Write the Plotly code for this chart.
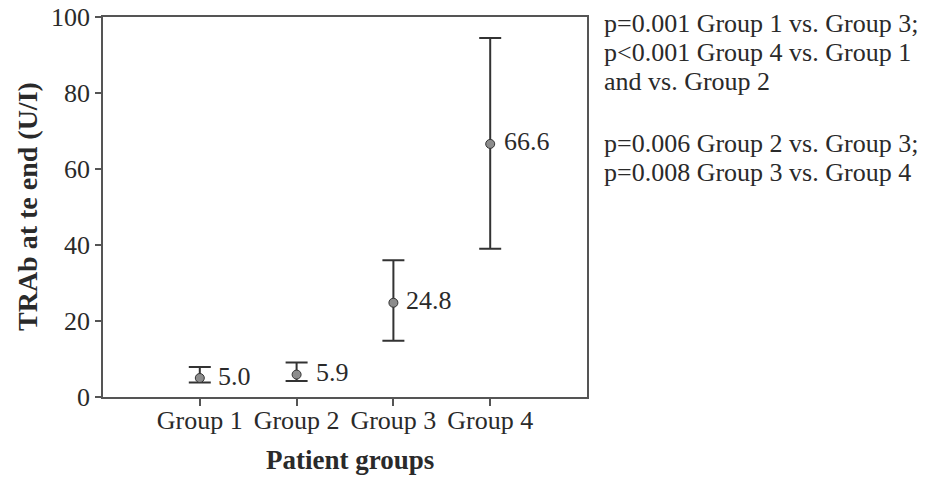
import plotly.graph_objects as go

groups = ["Group 1", "Group 2", "Group 3", "Group 4"]
group_pos = [1, 2, 3, 4]
means = [5.0, 5.9, 24.8, 66.6]
upper = [7.9, 9.1, 36.0, 94.5]
lower = [3.8, 4.2, 14.8, 39.0]
labels = ["5.0", "5.9", "24.8", "66.6"]

note_lines = [
    "p=0.001 Group 1 vs. Group 3;",
    "p<0.001 Group 4 vs. Group 1",
    "and vs. Group 2",
    "",
    "p=0.006 Group 2 vs. Group 3;",
    "p=0.008 Group 3 vs. Group 4",
]

# style: horizontal pixel shift of each value label from its point
label_shift = [16, 17, 11, 12]

FONT = "Liberation Serif"
TXT = "#2a2a2a"
LINE = "#555555"

err_plus = [u - m for u, m in zip(upper, means)]
err_minus = [m - l for m, l in zip(means, lower)]

fig = go.Figure()
fig.add_trace(go.Scatter(
    x=group_pos, y=means, mode="markers",
    marker=dict(size=9, color="#8c8c8c", line=dict(color="#333333", width=1)),
    error_y=dict(type="data", symmetric=False, array=err_plus, arrayminus=err_minus,
                 color="#333333", thickness=2, width=11),
    cliponaxis=False, showlegend=False, hoverinfo="skip",
))

anns = []
for xp, yv, t, sh in zip(group_pos, means, labels, label_shift):
    anns.append(dict(
        x=xp, y=yv, xref="x", yref="y", text=t, showarrow=False,
        xanchor="left", yanchor="middle", xshift=sh, yshift=2,
        font=dict(family=FONT, size=26, color=TXT),
    ))

# right-side notes, one annotation per line
line_step = 29
first_mid = 24
for i, t in enumerate(note_lines):
    if not t:
        continue
    py = first_mid + i * line_step + (3 if i >= 4 else 0)
    anns.append(dict(
        x=1.031, xref="paper", y=(397 - py) / 380, yref="paper",
        xanchor="left", yanchor="middle", showarrow=False,
        text=t, font=dict(family=FONT, size=26, color=TXT),
    ))

# axis titles
anns.append(dict(
    x=0.51, xref="paper", y=-0.166, yref="paper", xanchor="center", yanchor="middle",
    showarrow=False, text="<b>Patient groups</b>", font=dict(family=FONT, size=27, color=TXT),
))
anns.append(dict(
    x=-0.157, xref="paper", y=0.5, yref="paper", xanchor="center", yanchor="middle",
    textangle=-90, showarrow=False, text="<b>TRAb at te end (U/I)</b>",
    font=dict(family=FONT, size=28, color=TXT),
))

fig.update_layout(
    width=937, height=477,
    margin=dict(l=103, r=350, t=17, b=80),
    paper_bgcolor="white", plot_bgcolor="white",
    font=dict(family=FONT, size=26, color=TXT),
    annotations=anns,
    xaxis=dict(
        range=[0, 5], tickmode="array", tickvals=group_pos, ticktext=groups,
        automargin=False,
        showgrid=False, zeroline=False, showline=True, linecolor=LINE, linewidth=1.5,
        mirror=True, ticks="outside", ticklen=7, tickcolor=LINE, tickwidth=1.5,
        ticklabelstandoff=-8,
        tickfont=dict(family=FONT, size=26, color=TXT),
    ),
    yaxis=dict(
        range=[0, 100], tickmode="array", tickvals=[0, 20, 40, 60, 80, 100],
        automargin=False,
        showgrid=False, zeroline=False, showline=True, linecolor=LINE, linewidth=1.5,
        mirror=True, ticks="outside", ticklen=6, tickcolor=LINE, tickwidth=1.5,
        tickfont=dict(family=FONT, size=26, color=TXT),
    ),
)

fig.write_html("out.html")
